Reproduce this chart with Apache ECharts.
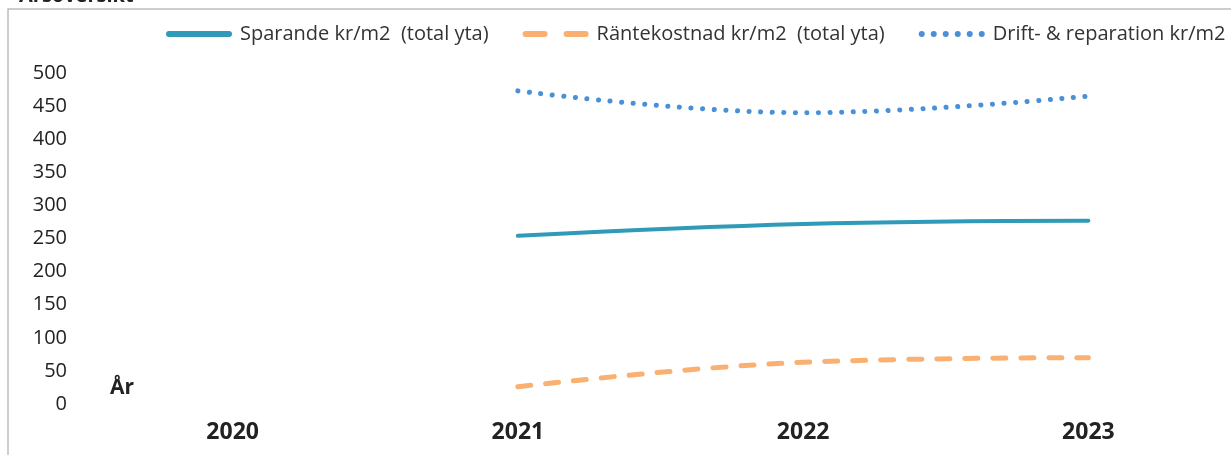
<!DOCTYPE html>
<html>
<head>
<meta charset="utf-8">
<script src="https://cdn.jsdelivr.net/npm/echarts@6/dist/echarts.min.js"></script>
<style>
body{margin:0;padding:0;background:#fff;}
#main{width:1231px;height:455px;}
</style>
</head>
<body>
<div id="main"></div>
<script>
const years = ['2020', '2021', '2022', '2023']
const sparande = [null, 254, 272, 277]
const rantekostnad = [null, 26, 63, 70]
const drift = [null, 473, 440, 465]
const yTicks = [0, 50, 100, 150, 200, 250, 300, 350, 400, 450, 500]
const seriesNames = ['Sparande kr/m2  (total yta)', 'Räntekostnad kr/m2  (total yta)', 'Drift- & reparation kr/m2']

const font = 'Open Sans'
// legend icons drawn like the excel ones (solid / two dashes / six dots)
const dot = 'a3,3 0 1 0 6,0a3,3 0 1 0 -6,0z'
const icons = [
  'path://M3,0h60a3,3 0 0 1 0,6h-60a3,3 0 0 1 0,-6z',
  'path://M3,0h19a3,3 0 0 1 0,6h-19a3,3 0 0 1 0,-6zM44,0h19a3,3 0 0 1 0,6h-19a3,3 0 0 1 0,-6z',
  'path://M0,3' + dot + 'M12,3' + dot + 'M24,3' + dot + 'M36,3' + dot + 'M48,3' + dot + 'M60,3' + dot
]

let myChart = echarts.init(document.getElementById('main'))
const option = {
  backgroundColor: '#fff',
  animation: false,
  title: {
    text: 'Årsöversikt',
    left: 14,
    top: -19,
    textStyle: {fontFamily: font, fontSize: 20, fontWeight: 'bold', color: '#222'}
  },
  graphic: [{
    type: 'rect',
    shape: {x: 8, y: 9, width: 1300, height: 500},
    style: {fill: 'none', stroke: '#bdbdbd', lineWidth: 1.5},
    z: -1
  }, {
    type: 'text',
    left: 110,
    top: 378,
    style: {text: 'År', font: 'bold 21px "Open Sans"', fill: '#222'}
  }],
  legend: {
    top: 19,
    left: 161,
    itemGap: 34,
    itemWidth: 66,
    itemHeight: 6,
    textStyle: {fontFamily: font, fontSize: 20, color: '#333', padding: [0, 0, 0, 3]},
    data: seriesNames.map(function (n, i) {
      return {name: n, icon: icons[i]}
    })
  },
  grid: {left: 90, right: -7, top: 73, bottom: 51},
  xAxis: {
    type: 'category',
    data: years,
    boundaryGap: true,
    axisLine: {show: false},
    axisTick: {show: false},
    axisLabel: {margin: 17, fontFamily: font, fontSize: 23, fontWeight: 'bold', color: '#222'}
  },
  yAxis: {
    type: 'value',
    min: yTicks[0],
    max: yTicks[yTicks.length - 1],
    interval: 50,
    splitLine: {show: false},
    axisLine: {show: false},
    axisTick: {show: false},
    axisLabel: {margin: 23, fontFamily: font, fontSize: 20, color: '#222'}
  },
  series: [{
    name: seriesNames[0],
    type: 'line',
    data: sparande,
    smooth: 0.4,
    symbol: 'none',
    color: '#2f9bb8',
    lineStyle: {width: 4, color: '#2f9bb8', cap: 'round'}
  }, {
    name: seriesNames[1],
    type: 'line',
    data: rantekostnad,
    smooth: 0.4,
    symbol: 'none',
    color: '#f9b071',
    lineStyle: {width: 5, color: '#f9b071', type: [13, 15], cap: 'round'}
  }, {
    name: seriesNames[2],
    type: 'line',
    data: drift,
    smooth: 0.4,
    symbol: 'none',
    color: '#4a90d9',
    lineStyle: {width: 5, color: '#4a90d9', type: [0.1, 11.5], cap: 'round'}
  }]
}
myChart.setOption(option)
</script>
</body>
</html>
